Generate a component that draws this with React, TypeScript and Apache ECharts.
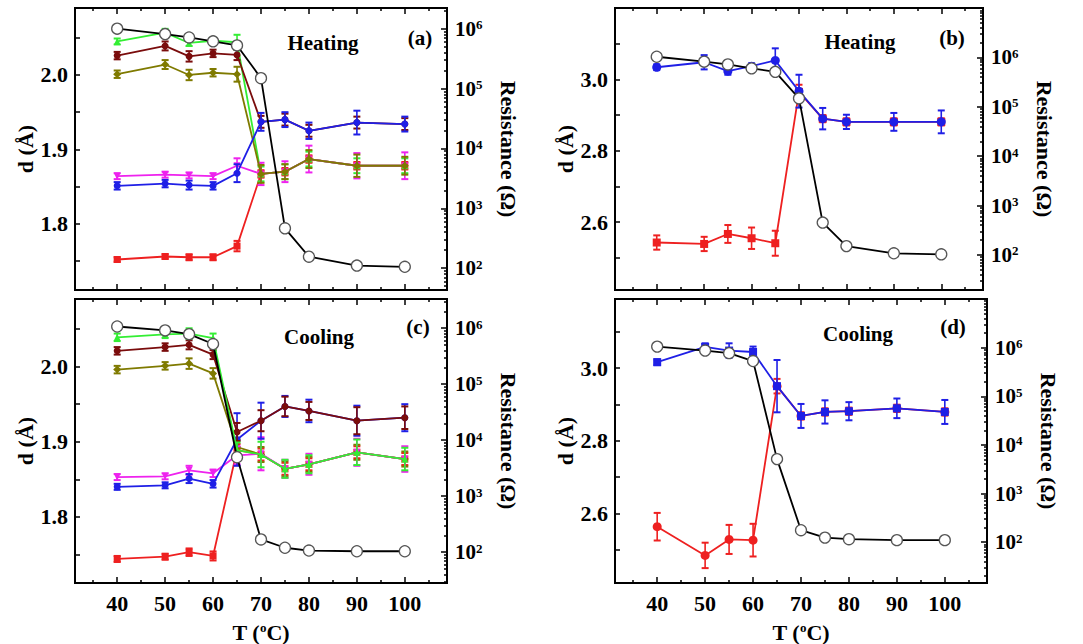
import React, { useEffect, useRef } from 'react';
import * as echarts from 'echarts';

const T = [40, 50, 55, 60, 65, 70, 75, 80, 90, 100];

// Panel (a) Heating
const aGreen = [2.045, 2.057, 2.043, 2.046, 2.044, 1.867, 1.870, 1.887, 1.878, 1.878];
const aGreenErr = [0.004, 0.005, 0.004, 0.004, 0.010, 0.010, 0.010, 0.010, 0.010, 0.010];
const aMaroon = [2.026, 2.039, 2.025, 2.029, 2.027, 1.937, 1.940, 1.925, 1.936, 1.934];
const aMaroonErr = [0.005, 0.006, 0.007, 0.005, 0.007, 0.008, 0.008, 0.008, 0.008, 0.008];
const aOlive = [2.001, 2.014, 2.000, 2.003, 2.001, 1.867, 1.870, 1.887, 1.878, 1.878];
const aOliveErr = [0.005, 0.006, 0.007, 0.005, 0.010, 0.012, 0.010, 0.012, 0.015, 0.012];
const aMagenta = [1.864, 1.866, 1.865, 1.864, 1.878, 1.867, 1.870, 1.887, 1.878, 1.878];
const aMagentaErr = [0.004, 0.004, 0.004, 0.004, 0.010, 0.015, 0.014, 0.018, 0.017, 0.018];
const aBlue = [1.851, 1.854, 1.852, 1.851, 1.868, 1.937, 1.940, 1.925, 1.936, 1.934];
const aBlueErr = [0.005, 0.005, 0.006, 0.005, 0.012, 0.012, 0.010, 0.011, 0.016, 0.010];
const aRed = [1.752, 1.756, 1.755, 1.755, 1.770, 1.867, 1.870, 1.887, 1.878, 1.878];
const aRedErr = [0.003, 0.003, 0.004, 0.004, 0.007, 0.005, 0.005, 0.005, 0.005, 0.005];
const aRes = [1.01e6, 8.2e5, 7.2e5, 6.2e5, 5.3e5, 1.5e5, 462, 155, 110, 105];

// Panel (b) Heating
const bBlue = [3.034, 3.048, 3.023, 3.037, 3.053, 2.967, 2.890, 2.881, 2.881, 2.881];
const bBlueErr = [0.008, 0.020, 0.010, 0.008, 0.034, 0.046, 0.030, 0.020, 0.025, 0.032];
const bRed = [2.543, 2.539, 2.567, 2.555, 2.541, 2.965, 2.890, 2.881, 2.881, 2.881];
const bRedErr = [0.020, 0.020, 0.025, 0.030, 0.035, 0.020, 0.010, 0.010, 0.010, 0.010];
const bRes = [1.03e6, 8.2e5, 7.2e5, 6.0e5, 5.1e5, 1.48e5, 452, 151, 108, 103];

// Panel (c) Cooling
const cGreen = [2.039, 2.043, 2.044, 2.038, 1.889, 1.883, 1.864, 1.870, 1.886, 1.877];
const cGreenErr = [0.005, 0.005, 0.007, 0.006, 0.010, 0.017, 0.012, 0.012, 0.017, 0.015];
const cMaroon = [2.021, 2.026, 2.029, 2.016, 1.913, 1.928, 1.947, 1.941, 1.928, 1.932];
const cMaroonErr = [0.005, 0.005, 0.006, 0.006, 0.012, 0.014, 0.013, 0.012, 0.018, 0.015];
const cOlive = [1.996, 2.001, 2.004, 1.991, 1.893, 1.883, 1.864, 1.870, 1.886, 1.877];
const cOliveErr = [0.005, 0.005, 0.007, 0.007, 0.010, 0.010, 0.010, 0.010, 0.010, 0.010];
const cMagenta = [1.853, 1.854, 1.862, 1.858, 1.882, 1.884, 1.864, 1.870, 1.886, 1.877];
const cMagentaErr = [0.004, 0.004, 0.006, 0.005, 0.012, 0.022, 0.012, 0.014, 0.018, 0.017];
const cBlue = [1.840, 1.842, 1.851, 1.844, 1.903, 1.928, 1.947, 1.941, 1.928, 1.932];
const cBlueErr = [0.004, 0.004, 0.006, 0.005, 0.035, 0.024, 0.014, 0.015, 0.020, 0.018];
const cRed = [1.744, 1.747, 1.753, 1.748, 1.889, 1.883, 1.864, 1.870, 1.886, 1.877];
const cRedErr = [0.004, 0.004, 0.005, 0.006, 0.008, 0.008, 0.008, 0.008, 0.008, 0.008];
const cRes = [1.07e6, 9.1e5, 7.8e5, 5.2e5, 4950, 169, 120, 107, 104, 104];

// Panel (d) Cooling
const dBlue = [3.016, 3.058, 3.048, 3.044, 2.950, 2.868, 2.879, 2.881, 2.889, 2.879];
const dBlueErr = [0.008, 0.010, 0.020, 0.015, 0.072, 0.033, 0.032, 0.025, 0.027, 0.033];
const dRed = [2.563, 2.484, 2.528, 2.526, 2.950, 2.868, 2.879, 2.881, 2.889, 2.879];
const dRedErr = [0.038, 0.035, 0.040, 0.045, 0.020, 0.010, 0.010, 0.010, 0.010, 0.010];
const dRes = [1.05e6, 8.7e5, 7.7e5, 5.3e5, 5.1e3, 176, 124, 115, 110, 110];

// Tick values
const X_MAJOR = [40, 50, 60, 70, 80, 90, 100];
const X_MINOR = [35, 45, 55, 65, 75, 85, 95, 105];
const D_LOW_TICKS = [1.75, 1.8, 1.85, 1.9, 1.95, 2.0, 2.05];
const D_LOW_LABELS = [1.8, 1.9, 2.0];
const D_HIGH_TICKS = [2.5, 2.6, 2.7, 2.8, 2.9, 3.0, 3.1];
const D_HIGH_LABELS = [2.6, 2.8, 3.0];
const R_DECADES = [1e2, 1e3, 1e4, 1e5, 1e6];
const R_MINOR_MULT = [2, 3, 4, 5, 6, 7, 8, 9];
const R_MINOR_EXP = [1, 2, 3, 4, 5, 6];

const COLORS = {
  green: '#33ee33',
  maroon: '#7a0c0c',
  olive: '#7f7a00',
  magenta: '#ee22ee',
  blue: '#1f1fe6',
  red: '#ee2020',
};

const FONT = "'Liberation Serif', 'Times New Roman', serif";

const X_MIN = 31.2;
const X_MAX = 108.8;

type SDef = { vals: number[]; err: number[]; color: string; symbol: string; rotate?: number; size?: number };

const grids = [
  { left: 75, top: 8, width: 372, height: 282 },
  { left: 615, top: 8, width: 368, height: 282 },
  { left: 75, top: 299, width: 372, height: 284 },
  { left: 615, top: 299, width: 372, height: 285 },
];

const panels: {
  yMin: number; yMax: number; rMin: number; rMax: number;
  dTicks: number[]; dLabels: number[]; bottom: boolean;
  series: SDef[]; res: number[];
  title: string; tag: string; titlePos: number[]; tagPos: number[];
}[] = [
  {
    yMin: 1.711, yMax: 2.09, rMin: Math.pow(10, 1.633), rMax: Math.pow(10, 6.35),
    dTicks: D_LOW_TICKS, dLabels: D_LOW_LABELS, bottom: false,
    series: [
      { vals: aRed, err: aRedErr, color: COLORS.red, symbol: 'rect' },
      { vals: aGreen, err: aGreenErr, color: COLORS.green, symbol: 'triangle' },
      { vals: aMaroon, err: aMaroonErr, color: COLORS.maroon, symbol: 'circle' },
      { vals: aMagenta, err: aMagentaErr, color: COLORS.magenta, symbol: 'triangle', rotate: 180 },
      { vals: aOlive, err: aOliveErr, color: COLORS.olive, symbol: 'diamond', size: 8 },
      { vals: aBlue, err: aBlueErr, color: COLORS.blue, symbol: 'circle' },
    ],
    res: aRes, title: 'Heating', tag: '(a)', titlePos: [323, 43], tagPos: [420, 38],
  },
  {
    yMin: 2.41, yMax: 3.2, rMin: Math.pow(10, 1.29), rMax: Math.pow(10, 7.0),
    dTicks: D_HIGH_TICKS, dLabels: D_HIGH_LABELS, bottom: false,
    series: [
      { vals: bRed, err: bRedErr, color: COLORS.red, symbol: 'rect', size: 8 },
      { vals: bBlue, err: bBlueErr, color: COLORS.blue, symbol: 'circle', size: 9 },
    ],
    res: bRes, title: 'Heating', tag: '(b)', titlePos: [860, 42], tagPos: [952, 38],
  },
  {
    yMin: 1.712, yMax: 2.09, rMin: Math.pow(10, 1.45), rMax: Math.pow(10, 6.52),
    dTicks: D_LOW_TICKS, dLabels: D_LOW_LABELS, bottom: true,
    series: [
      { vals: cRed, err: cRedErr, color: COLORS.red, symbol: 'rect' },
      { vals: cOlive, err: cOliveErr, color: COLORS.olive, symbol: 'diamond', size: 8 },
      { vals: cMagenta, err: cMagentaErr, color: COLORS.magenta, symbol: 'triangle', rotate: 180 },
      { vals: cBlue, err: cBlueErr, color: COLORS.blue, symbol: 'circle' },
      { vals: cMaroon, err: cMaroonErr, color: COLORS.maroon, symbol: 'circle' },
      { vals: cGreen, err: cGreenErr, color: COLORS.green, symbol: 'triangle' },
    ],
    res: cRes, title: 'Cooling', tag: '(c)', titlePos: [319, 337], tagPos: [418, 327],
  },
  {
    yMin: 2.408, yMax: 3.19, rMin: Math.pow(10, 1.16), rMax: Math.pow(10, 7.0),
    dTicks: D_HIGH_TICKS, dLabels: D_HIGH_LABELS, bottom: true,
    series: [
      { vals: dRed, err: dRedErr, color: COLORS.red, symbol: 'circle', size: 9 },
      { vals: dBlue, err: dBlueErr, color: COLORS.blue, symbol: 'rect', size: 8 },
    ],
    res: dRes, title: 'Cooling', tag: '(d)', titlePos: [858, 334], tagPos: [953, 327],
  },
];

function buildOption() {
  const rMinor: number[] = [];
  R_MINOR_EXP.forEach((e) => R_MINOR_MULT.forEach((m) => rMinor.push(m * Math.pow(10, e))));

  const xAxis: any[] = [];
  const yAxis: any[] = [];
  const series: any[] = [];
  const graphic: any[] = [];

  const tickBase = (len: number) => ({ show: true, inside: true, length: len, lineStyle: { color: '#000', width: 1.5 } });
  const labelStyle = { color: '#000', fontFamily: FONT, fontWeight: 'bold', fontSize: 22 };

  panels.forEach((p, pi) => {
    const xBase = xAxis.length;
    // bottom major
    xAxis.push({
      type: 'value', gridIndex: pi, position: 'bottom', min: X_MIN, max: X_MAX,
      axisLine: { show: false }, splitLine: { show: false },
      axisTick: { ...tickBase(6), customValues: X_MAJOR },
      axisLabel: p.bottom ? { ...labelStyle, customValues: X_MAJOR, margin: 9, formatter: (v: number) => String(v) } : { show: false },
      name: p.bottom ? 'T ({s|o}C)' : '',
      nameLocation: 'middle', nameGap: 38,
      nameTextStyle: {
        ...labelStyle,
        rich: {
          s: { fontFamily: FONT, fontWeight: 'bold', fontSize: 13, verticalAlign: 'top', color: '#000' },
        },
      },
    });
    // bottom minor
    xAxis.push({
      type: 'value', gridIndex: pi, position: 'bottom', min: X_MIN, max: X_MAX,
      axisLine: { show: false }, splitLine: { show: false },
      axisTick: { ...tickBase(3), customValues: X_MINOR }, axisLabel: { show: false },
    });
    // top major
    xAxis.push({
      type: 'value', gridIndex: pi, position: 'top', min: X_MIN, max: X_MAX,
      axisLine: { show: false }, splitLine: { show: false },
      axisTick: { ...tickBase(6), customValues: X_MAJOR }, axisLabel: { show: false },
    });
    // top minor
    xAxis.push({
      type: 'value', gridIndex: pi, position: 'top', min: X_MIN, max: X_MAX,
      axisLine: { show: false }, splitLine: { show: false },
      axisTick: { ...tickBase(3), customValues: X_MINOR }, axisLabel: { show: false },
    });

    const yBase = yAxis.length;
    yAxis.push({
      type: 'value', gridIndex: pi, position: 'left', min: p.yMin, max: p.yMax,
      axisLine: { show: false }, splitLine: { show: false },
      axisTick: { ...tickBase(5), customValues: p.dTicks },
      axisLabel: { ...labelStyle, customValues: p.dLabels, margin: 7, formatter: (v: number) => v.toFixed(1) },
      name: 'd (Å)', nameLocation: 'middle', nameGap: 37,
      nameTextStyle: { ...labelStyle },
    });
    yAxis.push({
      type: 'log', logBase: 10, gridIndex: pi, position: 'right', min: p.rMin, max: p.rMax,
      axisLine: { show: false }, splitLine: { show: false },
      axisTick: { ...tickBase(6), customValues: R_DECADES },
      axisLabel: {
        ...labelStyle, fontSize: 21, customValues: R_DECADES, margin: 8,
        formatter: (v: number) => '{b|10}{s|' + Math.round(Math.log10(v)) + '}',
        rich: {
          b: { fontFamily: FONT, fontWeight: 'bold', fontSize: 21, color: '#000' },
          s: { fontFamily: FONT, fontWeight: 'bold', fontSize: 13, verticalAlign: 'top', color: '#000' },
        },
      },
      name: 'Resistance (Ω)', nameLocation: 'middle', nameGap: 50, nameRotate: -90,
      nameTextStyle: { ...labelStyle },
    });
    yAxis.push({
      type: 'log', logBase: 10, gridIndex: pi, position: 'right', min: p.rMin, max: p.rMax,
      axisLine: { show: false }, splitLine: { show: false },
      axisTick: { ...tickBase(3), customValues: rMinor }, axisLabel: { show: false },
    });

    p.series.forEach((s, si) => {
      const z = 2 + si;
      series.push({
        type: 'custom', xAxisIndex: xBase, yAxisIndex: yBase, z,
        data: T.map((t, i) => [t, s.vals[i] - s.err[i], s.vals[i] + s.err[i]]),
        encode: { x: 0, y: [1, 2] },
        renderItem: (params: any, api: any) => {
          const x = api.value(0);
          const p1 = api.coord([x, api.value(1)]);
          const p2 = api.coord([x, api.value(2)]);
          const w = 3.5;
          const st = { stroke: s.color, lineWidth: 1.6 };
          const cap = { stroke: s.color, lineWidth: 2 };
          return {
            type: 'group',
            children: [
              { type: 'line', shape: { x1: p1[0], y1: p1[1], x2: p2[0], y2: p2[1] }, style: st },
              { type: 'line', shape: { x1: p1[0] - w, y1: p1[1], x2: p1[0] + w, y2: p1[1] }, style: cap },
              { type: 'line', shape: { x1: p2[0] - w, y1: p2[1], x2: p2[0] + w, y2: p2[1] }, style: cap },
            ],
          };
        },
      });
      series.push({
        type: 'line', xAxisIndex: xBase, yAxisIndex: yBase, z,
        data: T.map((t, i) => [t, s.vals[i]]),
        symbol: s.symbol, symbolSize: s.size || 7, symbolRotate: s.rotate || 0,
        lineStyle: { color: s.color, width: 1.8 },
        itemStyle: { color: s.color },
      });
    });

    series.push({
      type: 'line', xAxisIndex: xBase, yAxisIndex: yBase + 1, z: 20,
      data: T.map((t, i) => [t, p.res[i]]),
      symbol: 'circle', symbolSize: 11,
      lineStyle: { color: '#000', width: 1.8 },
      itemStyle: { color: '#fff', borderColor: '#555', borderWidth: 1.3 },
    });

    graphic.push({
      type: 'text', x: p.titlePos[0], y: p.titlePos[1], z: 100,
      style: { text: p.title, fontFamily: FONT, fontWeight: 'bold', fontSize: 21, fill: '#000', align: 'center', verticalAlign: 'middle' },
    });
    graphic.push({
      type: 'text', x: p.tagPos[0], y: p.tagPos[1], z: 100,
      style: { text: p.tag, fontFamily: FONT, fontWeight: 'bold', fontSize: 21, fill: '#000', align: 'center', verticalAlign: 'middle' },
    });
  });

  return {
    animation: false,
    backgroundColor: '#fff',
    grid: grids.map((g) => ({ ...g, show: true, borderColor: '#000', borderWidth: 2, backgroundColor: 'transparent', containLabel: false })),
    xAxis,
    yAxis,
    series,
    graphic,
  };
}

export default function App() {
  const ref = useRef<HTMLDivElement>(null);
  useEffect(() => {
    if (!ref.current) return;
    const chart = echarts.init(ref.current, undefined, { renderer: 'svg' });
    chart.setOption(buildOption() as any);
    return () => chart.dispose();
  }, []);
  return <div ref={ref} style={{ position: 'fixed', left: 0, top: 0, width: 1083, height: 644, background: '#fff' }} />;
}
